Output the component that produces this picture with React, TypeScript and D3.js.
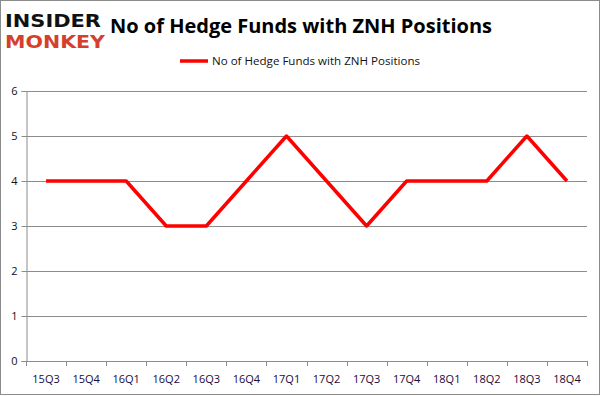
import { useEffect, useRef } from "react";
import { select, scaleBand, scaleLinear, line, axisLeft, axisBottom } from "d3";

const quarters = [
  "15Q3", "15Q4", "16Q1", "16Q2", "16Q3", "16Q4", "17Q1",
  "17Q2", "17Q3", "17Q4", "18Q1", "18Q2", "18Q3", "18Q4",
];
const funds = [4, 4, 4, 3, 3, 4, 5, 4, 3, 4, 4, 4, 5, 4];
const yTicks = [0, 1, 2, 3, 4, 5, 6];

const W = 601;
const H = 396;

export default function App() {
  const svgRef = useRef<SVGSVGElement | null>(null);

  useEffect(() => {
    if (!svgRef.current) return;
    const svg = select(svgRef.current);
    svg.selectAll("*").remove();

    const margin = { top: 91, right: 14, bottom: 35, left: 26 };
    const innerW = W - margin.left - margin.right;
    const innerH = H - margin.top - margin.bottom;

    // outer frame
    svg
      .append("rect")
      .attr("x", 0.5)
      .attr("y", 0.5)
      .attr("width", W - 2)
      .attr("height", H - 2)
      .attr("fill", "white")
      .attr("stroke", "#8c8c8c");

    // logo
    const logo = svg.append("g").style("font-family", "'DejaVu Sans', sans-serif").style("font-weight", "bold");
    logo.append("text").attr("x", 5).attr("y", 27).attr("font-size", 18).attr("fill", "#111")
      .attr("textLength", 96).attr("lengthAdjust", "spacingAndGlyphs").text("INSIDER");
    logo.append("text").attr("x", 5).attr("y", 48).attr("font-size", 18).attr("fill", "#d4402c")
      .attr("textLength", 100).attr("lengthAdjust", "spacingAndGlyphs").text("MONKEY");

    svg
      .append("text")
      .attr("x", 110)
      .attr("y", 33)
      .attr("font-family", "'Open Sans', sans-serif")
      .attr("font-weight", "bold")
      .attr("font-size", 20)
      .attr("textLength", 382)
      .attr("lengthAdjust", "spacingAndGlyphs")
      .attr("fill", "#000")
      .text("No of Hedge Funds with ZNH Positions");

    // legend
    svg.append("line").attr("x1", 180).attr("x2", 208).attr("y1", 61).attr("y2", 61)
      .attr("stroke", "#ff0000").attr("stroke-width", 3.5);
    svg.append("text").attr("x", 212).attr("y", 65)
      .attr("font-family", "'Open Sans', sans-serif").attr("font-size", 11)
      .attr("textLength", 208).attr("lengthAdjust", "spacingAndGlyphs")
      .attr("fill", "#111").text("No of Hedge Funds with ZNH Positions");

    const chart = svg.append("g").attr("transform", `translate(${margin.left},${margin.top})`);

    const x = scaleBand().domain(quarters).range([0, innerW]);
    const y = scaleLinear().domain([0, 6]).range([innerH, 0]);

    // grid
    chart
      .append("g")
      .selectAll("line")
      .data(yTicks)
      .enter()
      .append("line")
      .attr("x1", 0)
      .attr("x2", innerW)
      .attr("y1", (d) => Math.round(y(d)) + 0.5)
      .attr("y2", (d) => Math.round(y(d)) + 0.5)
      .attr("stroke", "#8c8c8c");

    const yAxis = chart
      .append("g")
      .attr("transform", "translate(0.5,0)")
      .call(axisLeft(y).tickValues(yTicks).tickSize(5).tickPadding(4).tickFormat((d: any) => String(d)));
    yAxis.select(".domain").attr("stroke", "#8c8c8c");
    yAxis.selectAll(".tick line").attr("stroke", "#8c8c8c");
    yAxis.selectAll("text").attr("font-family", "'Open Sans', sans-serif").attr("font-size", 11).attr("fill", "#111");

    const xAxis = chart
      .append("g")
      .attr("transform", `translate(0,${Math.round(innerH) + 0.5})`)
      .call(axisBottom(x).tickSize(0).tickPadding(14));
    xAxis.select(".domain").remove();
    xAxis.selectAll("text").attr("font-family", "'Open Sans', sans-serif").attr("font-size", 11).attr("fill", "#1a0a3a");

    // category boundary ticks
    chart
      .append("g")
      .selectAll("line")
      .data(quarters.concat(["end"]))
      .enter()
      .append("line")
      .attr("x1", (_d, i) => Math.round(i * x.step()) + 0.5)
      .attr("x2", (_d, i) => Math.round(i * x.step()) + 0.5)
      .attr("y1", innerH)
      .attr("y2", innerH + 5)
      .attr("stroke", "#8c8c8c");

    const path = line<number>()
      .x((_d, i) => (x(quarters[i]) as number) + x.bandwidth() / 2)
      .y((d) => y(d));

    chart
      .append("path")
      .datum(funds)
      .attr("fill", "none")
      .attr("stroke", "#ff0000")
      .attr("stroke-width", 3.5)
      .attr("stroke-linejoin", "round")
      .attr("d", path as any);
  }, []);

  return (
    <div style={{ position: "absolute", left: 0, top: 0 }}>
      <svg ref={svgRef} width={W} height={H} style={{ display: "block" }} />
    </div>
  );
}
